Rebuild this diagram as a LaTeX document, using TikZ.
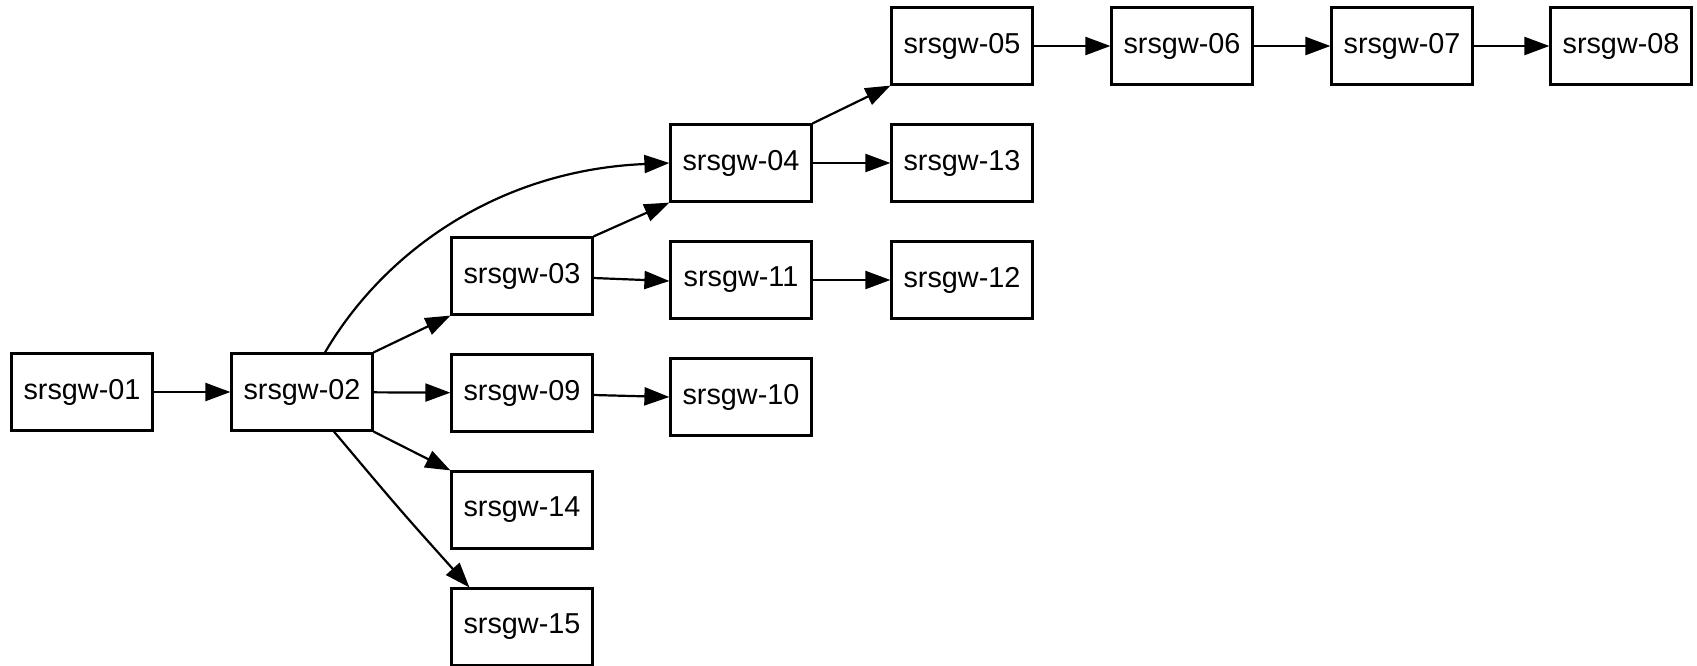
\documentclass[tikz,border=0pt]{standalone}
\usepackage{fontspec}
\setmainfont{Liberation Sans}
\usetikzlibrary{arrows.meta,calc}
\begin{document}
\begin{tikzpicture}[x=0.5pt,y=-0.5pt,
  box/.style={draw,line width=1.1pt,minimum width=70.5pt,minimum height=38.5pt,inner sep=0pt,font=\fontsize{14.4pt}{16pt}\selectfont},
  edge/.style={line width=1.1pt,-{Triangle[length=12.5pt,width=9pt]}}]
\useasboundingbox (0,0) rectangle (1697,665);
\node[box] (n01) at (82,392) {srsgw-01};
\node[box] (n02) at (302,392) {srsgw-02};
\node[box] (n03) at (522,276) {srsgw-03};
\node[box] (n09) at (522,393) {srsgw-09};
\node[box] (n14) at (522,510) {srsgw-14};
\node[box] (n15) at (522,627) {srsgw-15};
\node[box] (n04) at (741,163) {srsgw-04};
\node[box] (n11) at (741,280) {srsgw-11};
\node[box] (n10) at (741,397) {srsgw-10};
\node[box] (n05) at (962,46) {srsgw-05};
\node[box] (n13) at (962,163) {srsgw-13};
\node[box] (n12) at (962,280) {srsgw-12};
\node[box] (n06) at (1182,46) {srsgw-06};
\node[box] (n07) at (1402,46) {srsgw-07};
\node[box] (n08) at (1621,46) {srsgw-08};
\draw[edge] (n01) -- (n02);
\draw[edge] (n02.north east) -- (n03.south west);
\draw[edge] (n02) -- (n09);
\draw[edge] (n02.south east) -- (n14.north west);
\draw[edge] ($(n02.south)+(32,0)$) .. controls (400,510) .. ($(n15.north west)+(19,0)$);
\draw[edge] ($(n02.north)+(23,0)$) .. controls (385,250) and (500,170) .. (n04.west);
\draw[edge] (n03.north east) -- (n04.south west);
\draw[edge] ($(n03.east)+(0,2)$) -- ($(n11.west)+(0,1)$);
\draw[edge] ($(n09.east)+(0,2)$) -- (n10.west);
\draw[edge] (n04.north east) -- (n05.south west);
\draw[edge] (n04) -- (n13);
\draw[edge] (n11) -- (n12);
\draw[edge] (n05) -- (n06);
\draw[edge] (n06) -- (n07);
\draw[edge] (n07) -- (n08);
\end{tikzpicture}
\end{document}
